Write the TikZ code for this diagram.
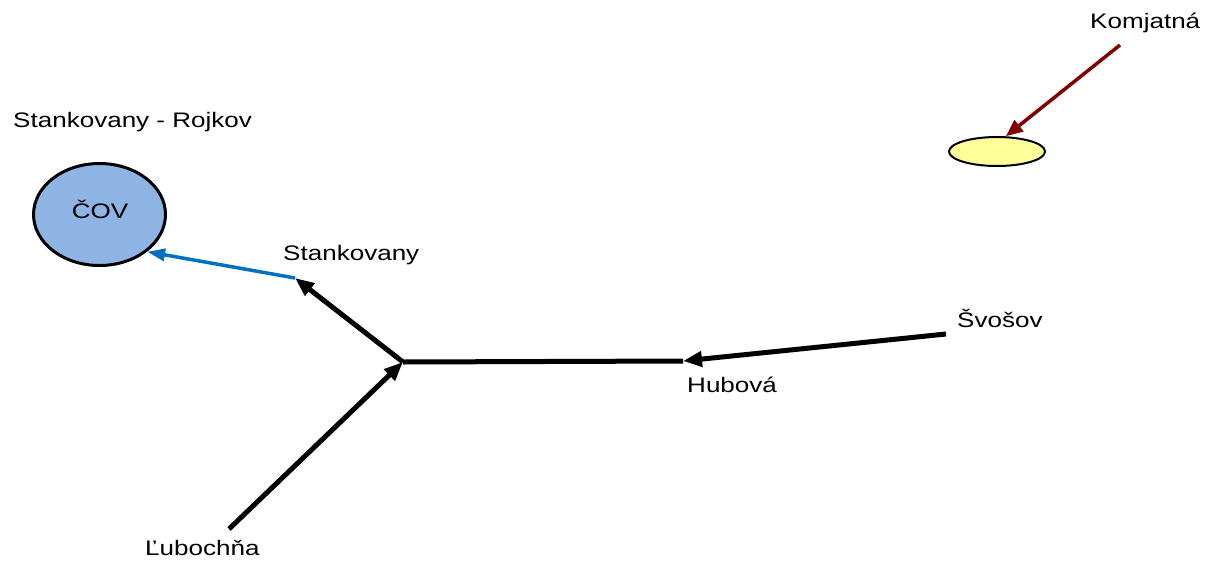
\documentclass[tikz,border=0pt]{standalone}
\usepackage{fontspec}
\setmainfont{Liberation Sans}[FakeStretch=1.24]
\usetikzlibrary{arrows.meta,shapes.geometric}
\definecolor{covblue}{HTML}{8EB4E3}
\definecolor{flowblue}{HTML}{0070C0}
\definecolor{darkred}{HTML}{800000}
\definecolor{pondyellow}{HTML}{FFFF99}

\begin{document}
\begin{tikzpicture}[x=1pt,y=-1pt,
  lbl/.style={font=\fontsize{21}{25}\selectfont, inner sep=0pt, anchor=base west},
  pipe/.style={line width=5pt, -{Triangle[length=19pt,width=15pt]}}]
\useasboundingbox (0,0) rectangle (1209,563);

% plant and pond
\node[ellipse, draw, line width=3pt, fill=covblue, minimum width=132, minimum height=102] (cov) at (99.5,214.5) {};
\node[lbl, anchor=base] (covtext) at (100,218) {ČOV};
\node[ellipse, draw, line width=2pt, fill=pondyellow, minimum width=96, minimum height=29] (pond) at (997,151.5) {};

% labels
\node[lbl] (rojkov) at (13,127) {Stankovany - Rojkov};
\node[lbl] (stank) at (283,260) {Stankovany};
\node[lbl] (komj) at (1090,28) {Komjatná};
\node[lbl] (svos) at (957,327) {Švošov};
\node[lbl] (hubo) at (687,392) {Hubová};
\node[lbl] (lubo) at (145,555) {Ľubochňa};

% line ends
\coordinate (jn) at (403,362);
\coordinate (hub) at (683,361);
\coordinate (stk) at (295,278);
\coordinate (svo) at (946,334);
\coordinate (lub) at (229,529);
\coordinate (kom) at (1120,45);

\draw[line width=5pt] (jn) -- (hub);
\draw[pipe] (svo) -- (hub);
\draw[pipe] (jn) -- (stk);
\draw[pipe] (lub) -- (jn);
\draw[line width=3.5pt, flowblue, -{Triangle[length=18pt,width=12pt]}] (stk) -- (cov.-38);
\draw[line width=3.5pt, darkred, -{Triangle[length=17pt,width=14pt]}] (kom) -- (pond.60);
\end{tikzpicture}
\end{document}
